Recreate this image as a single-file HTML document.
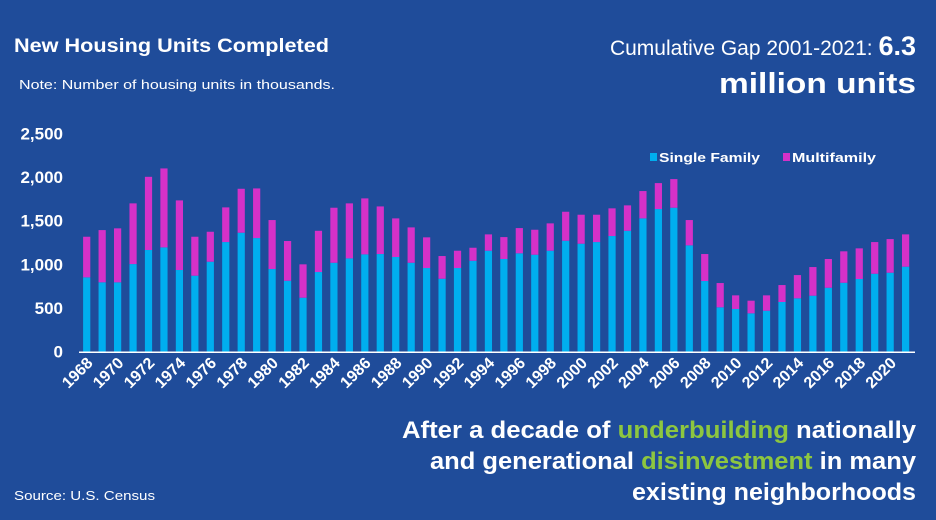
<!DOCTYPE html>
<html><head><meta charset="utf-8"><style>
html,body{margin:0;padding:0;background:#1f4c9a;}
svg{display:block;font-family:"Liberation Sans",sans-serif;}
</style></head><body>
<svg id="chart" width="936" height="520" viewBox="0 0 936 520">
<rect width="936" height="520" fill="#1f4c9a"/>
<text x="14" y="52" fill="#fff" font-weight="bold" font-size="19" textLength="315" lengthAdjust="spacingAndGlyphs">New Housing Units Completed</text>
<text x="19" y="89" fill="#fff" font-size="13" textLength="316" lengthAdjust="spacingAndGlyphs">Note: Number of housing units in thousands.</text>
<text x="916" y="55" fill="#fff" text-anchor="end" font-size="21"><tspan>Cumulative Gap 2001-2021: </tspan><tspan font-weight="bold" font-size="27">6.3</tspan></text>
<text x="916" y="93" fill="#fff" text-anchor="end" font-weight="bold" font-size="29" textLength="197" lengthAdjust="spacingAndGlyphs">million units</text>
<g id="legend">
<rect x="650" y="153" width="7" height="8" fill="#00aeef"/>
<text x="659" y="162" fill="#fff" font-weight="bold" font-size="13" textLength="101" lengthAdjust="spacingAndGlyphs">Single Family</text>
<rect x="783" y="153" width="7" height="8" fill="#d531c8"/>
<text x="792" y="162" fill="#fff" font-weight="bold" font-size="13" textLength="84" lengthAdjust="spacingAndGlyphs">Multifamily</text>
</g>
<g id="plot"></g>
<text x="916" y="438" fill="#fff" text-anchor="end" font-weight="bold" font-size="24" textLength="514" lengthAdjust="spacingAndGlyphs">After a decade of <tspan fill="#8dc63f">underbuilding</tspan> nationally</text>
<text x="916" y="469" fill="#fff" text-anchor="end" font-weight="bold" font-size="24" textLength="486" lengthAdjust="spacingAndGlyphs">and generational <tspan fill="#8dc63f">disinvestment</tspan> in many</text>
<text x="916" y="500" fill="#fff" text-anchor="end" font-weight="bold" font-size="24" textLength="284" lengthAdjust="spacingAndGlyphs">existing neighborhoods</text>
<text x="14" y="500" fill="#fff" font-size="13" textLength="141" lengthAdjust="spacingAndGlyphs">Source: U.S. Census</text>
</svg>
<script>
const years = [1968,1969,1970,1971,1972,1973,1974,1975,1976,1977,1978,1979,1980,1981,1982,1983,1984,1985,1986,1987,1988,1989,1990,1991,1992,1993,1994,1995,1996,1997,1998,1999,2000,2001,2002,2003,2004,2005,2006,2007,2008,2009,2010,2011,2012,2013,2014,2015,2016,2017,2018,2019,2020,2021];
const singleFamily = [851,794,794,1003,1164,1194,935,870,1030,1255,1362,1301,946,812,618,912,1018,1068,1114,1118,1084,1018,958,835,958,1041,1156,1061,1126,1110,1156,1270,1236,1255,1324,1384,1526,1633,1648,1217,809,508,489,439,469,569,611,641,732,789,832,892,904,973];
const multifamily = [465,598,618,695,838,904,797,446,343,397,503,568,561,455,382,472,630,630,641,545,442,405,351,260,198,149,187,251,289,286,313,332,332,313,317,291,313,297,328,290,309,278,156,145,176,194,266,328,329,360,351,363,385,370];
const yTicks = [0,500,1000,1500,2000,2500];
const yTickLabels = ["0","500","1,000","1,500","2,000","2,500"];

const NS = "http://www.w3.org/2000/svg";
const plot = document.getElementById("plot");
const y0 = 351.7, yTop = 133.3, yMax = 2500;
const yScale = v => y0 - (v / yMax) * (y0 - yTop);
const x0 = 86.7, step = (905.6 - 86.7) / 53;
const xScale = i => x0 + i * step;
const bw = 7.2;
function mk(tag, attrs){const e=document.createElementNS(NS,tag);for(const k in attrs)e.setAttribute(k,attrs[k]);plot.appendChild(e);return e;}

yTicks.forEach((t,i)=>{
  const e = mk("text",{x:63,y:yScale(t)+6,fill:"#fff","text-anchor":"end","font-weight":"bold","font-size":"17"});
  e.textContent = yTickLabels[i];
  
  
});

years.forEach((yr,i)=>{
  const cx = xScale(i);
  const s = singleFamily[i], m = multifamily[i];
  const r1 = mk("rect",{x:cx-bw/2,y:yScale(s),width:bw,height:y0-yScale(s),fill:"#00aeef"});
  
  
  const r2 = mk("rect",{x:cx-bw/2,y:yScale(s+m),width:bw,height:yScale(s)-yScale(s+m),fill:"#d531c8"});
  
  
  if (yr % 2 === 0) {
    const t = mk("text",{x:0,y:0,fill:"#fff","text-anchor":"end","font-weight":"bold","font-size":"16",transform:"translate("+(cx+7)+","+(364)+") rotate(-45)"});
    t.textContent = String(yr);
    
    
  }
});
const ax = mk("line",{x1:79,x2:915,y1:y0+0.5,y2:y0+0.5,stroke:"#fff","stroke-width":"1.5"});


</script>
</body></html>
